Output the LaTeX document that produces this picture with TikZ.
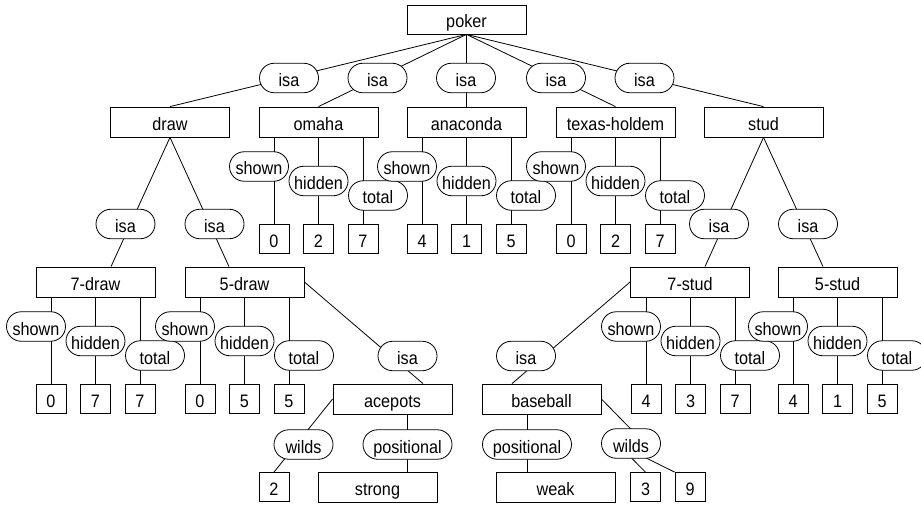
\documentclass[tikz,border=0pt]{standalone}
\usepackage{fontspec}
\setmainfont{Liberation Sans}[FakeStretch=0.9]
\usetikzlibrary{shapes.misc}
\pgfdeclarelayer{bg}
\pgfsetlayers{bg,main}
\newcommand{\attgrp}[6]{%
  \node[val] (#1v1) at (#2+15, #3+102) {#4};
  \node[val] (#1v2) at (#2+59.5, #3+102) {#5};
  \node[val] (#1v3) at (#2+104, #3+102) {#6};
  \node[lab] (#1l1) at (#2, #3+29.5) {shown};
  \node[lab] (#1l2) at (#2+59.5, #3+44) {hidden};
  \node[lab] (#1l3) at (#2+119, #3+58.5) {total};
  \begin{pgfonlayer}{bg}
    \draw[edge] (#1v1.north) -- (#1v1.north |- #1.south);
    \draw[edge] (#1v2.north) -- (#1v2.north |- #1.south);
    \draw[edge] (#1v3.north) -- (#1v3.north |- #1.south);
  \end{pgfonlayer}}
\begin{document}
\begin{tikzpicture}[x=1pt,y=-1pt,
  font=\fontsize{18}{20}\selectfont,
  txt/.style={text height=17pt, text depth=0pt},
  box/.style={txt, draw, line width=0.8pt, fill=white, minimum width=119pt, minimum height=30pt, inner sep=0pt},
  val/.style={txt, draw, line width=0.8pt, fill=white, minimum width=30pt, minimum height=29pt, inner sep=0pt},
  lab/.style={txt, draw, line width=0.8pt, fill=white, rounded rectangle, minimum width=59pt, minimum height=29.5pt, inner sep=0pt},
  edge/.style={line width=0.8pt}]
\useasboundingbox (0,0) rectangle (921,508);
% main boxes
\node[box, minimum height=29pt] (poker) at (466.5,19.5) {poker};
\node[box] (draw) at (170,122) {draw};
\node[box] (omaha) at (318.5,122) {omaha};
\node[box] (anaconda) at (466.5,122) {anaconda};
\node[box] (texas) at (615.5,122) {texas-holdem};
\node[box] (stud) at (763.5,122) {stud};
\node[box] (sevendraw) at (95.5,282) {7-draw};
\node[box] (fivedraw) at (244.5,282) {5-draw};
\node[box] (sevenstud) at (690,282) {7-stud};
\node[box] (fivestud) at (837.5,282) {5-stud};
\node[box] (acepots) at (392.5,399) {acepots};
\node[box] (baseball) at (541.5,399) {baseball};
\node[box] (strong) at (377.5,487) {strong};
\node[box] (weak) at (555.5,487) {weak};
\node[val] (two) at (274,487) {2};
\node[val] (three) at (645.5,487) {3};
\node[val] (nine) at (690,487) {9};
% isa labels
\node[lab] (i1) at (289,78) {isa};
\node[lab] (i2) at (377.5,78) {isa};
\node[lab] (i3) at (466,78) {isa};
\node[lab] (i4) at (556,78) {isa};
\node[lab] (i5) at (644.5,78) {isa};
\node[lab] (i6) at (125.5,224) {isa};
\node[lab] (i7) at (214.5,224) {isa};
\node[lab] (i8) at (719,224) {isa};
\node[lab] (i9) at (808,224) {isa};
\node[lab] (i10) at (407.5,356) {isa};
\node[lab] (i11) at (526,356) {isa};
\node[lab] (wa) at (303.5,444.5) {wilds};
\node[lab, minimum width=89pt] (pa) at (407.5,444.5) {positional};
\node[lab, minimum width=89pt] (pb) at (527,444.5) {positional};
\node[lab] (wb) at (631,443.5) {wilds};
% attribute groups
\attgrp{omaha}{259}{137}{0}{2}{7}
\attgrp{anaconda}{407}{137}{4}{1}{5}
\attgrp{texas}{556}{137}{0}{2}{7}
\attgrp{sevendraw}{36}{297}{0}{7}{7}
\attgrp{fivedraw}{185}{297}{0}{5}{5}
\attgrp{sevenstud}{631}{297}{4}{3}{7}
\attgrp{fivestud}{778}{297}{4}{1}{5}
\begin{pgfonlayer}{bg}
  \foreach \c in {draw,omaha,anaconda,texas,stud}
    \draw[edge] (poker.south) -- (\c.north);
  \draw[edge] (draw.south) -- ([xshift=15.5pt]sevendraw.north);
  \draw[edge] (draw.south) -- ([xshift=-15.5pt]fivedraw.north);
  \draw[edge] (stud.south) -- ([xshift=15pt]sevenstud.north);
  \draw[edge] (stud.south) -- ([xshift=-14.5pt]fivestud.north);
  \draw[edge] (fivedraw.east) -- ([xshift=30.5pt]acepots.north);
  \draw[edge] (sevenstud.west) -- ([xshift=-29.5pt]baseball.north);
  \draw[edge] (acepots.west) -- (two.north);
  \draw[edge] (pa.north |- acepots.south) -- (pa.north |- strong.north);
  \draw[edge] (pb.north |- baseball.south) -- (pb.north |- weak.north);
  \draw[edge] (baseball.east) -- ([xshift=14pt]wb.center);
  \draw[edge] ([xshift=-14pt]wb.center) -- (three.north);
  \draw[edge] ([xshift=-14pt]wb.center) -- (nine.north west);
\end{pgfonlayer}
\end{tikzpicture}
\end{document}
